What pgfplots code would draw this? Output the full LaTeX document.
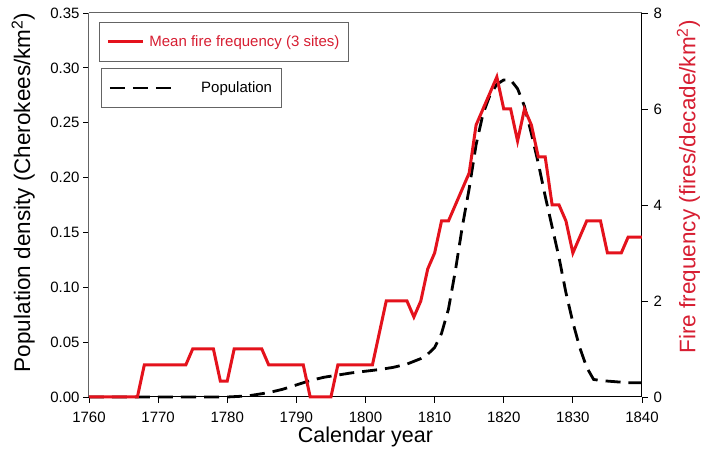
\documentclass[border=0pt]{standalone}
\usepackage{pgfplots}
\pgfplotsset{compat=1.18}
\usepackage{fontspec}
\setmainfont{Liberation Sans}
\definecolor{firered}{RGB}{228,18,28}
\definecolor{labred}{RGB}{215,30,50}
\definecolor{axgray}{RGB}{100,100,100}
\begin{document}
\begin{tikzpicture}
\useasboundingbox (-89pt,-55pt) rectangle (613pt,397pt);
\pgfplotsset{
 every axis/.append style={
  scale only axis, width=553pt, height=384pt, at={(0pt,0pt)}, anchor=south west,
  xmin=1760, xmax=1840, clip=false,
  tick align=outside, major tick length=6pt,
  every tick/.style={line width=0.9pt, black},
  ticklabel style={font=\fontsize{15}{18}\selectfont},
  /pgf/number format/assume math mode=true,
 },
}
\begin{axis}[
  axis x line*=bottom, axis y line*=left,
  x axis line style={line width=1pt, black},
  y axis line style={line width=1pt, axgray},
  ymin=0, ymax=0.35,
  xtick={1760,1770,1780,1790,1800,1810,1820,1830,1840},
  ytick={0,0.05,0.10,0.15,0.20,0.25,0.30,0.35},
  x tick label style={/pgf/number format/1000 sep={}, yshift=-5pt},
  y tick label style={/pgf/number format/.cd, fixed, fixed zerofill, precision=2},
  xlabel={Calendar year},
  xlabel style={at={(axis description cs:0.5,-0.078)}, anchor=north, inner sep=0pt, font=\fontsize{21.5}{25}\selectfont},
  ylabel={Population density (Cherokees/km\textsuperscript{2})},
  ylabel style={at={(axis description cs:-0.119,0.533)}, anchor=center, inner sep=0pt, font=\fontsize{22.5}{26}\selectfont},
  legend style={at={(0.0217,0.857)}, anchor=north west, draw=axgray, line width=0.8pt,
    font=\fontsize{15}{18}\selectfont, inner xsep=7pt, inner ysep=11.5pt},
  legend image code/.code={\draw[#1] (0pt,0pt) -- (61pt,0pt);},
]
\draw[axgray, line width=1pt] (rel axis cs:0,1) -- (rel axis cs:1,1);
\addplot[black, line width=2.8pt, dash pattern=on 15pt off 8pt] coordinates {
(1760,0) (1780,0) (1783,0.001) (1786,0.004) (1788,0.007) (1790,0.011) (1792,0.015)
(1794,0.018) (1796,0.020) (1798,0.022) (1800,0.0235) (1802,0.025) (1804,0.027)
(1806,0.030) (1808,0.035) (1809,0.039) (1810,0.045) (1811,0.058) (1812,0.080)
(1813,0.115) (1814,0.155) (1815,0.190) (1816,0.230) (1817,0.258) (1818,0.275)
(1819,0.285) (1820,0.289) (1821,0.289) (1822,0.281) (1823,0.265) (1824,0.240)
(1825,0.213) (1826,0.183) (1827,0.155) (1828,0.127) (1829,0.095) (1830,0.068)
(1831,0.045) (1832,0.027) (1833,0.016) (1834,0.015) (1836,0.014) (1838,0.013) (1840,0.013)
};
\addlegendentry{\hspace{27pt}Population\hspace{3pt}}
\end{axis}
\begin{axis}[
  axis x line=none, axis y line*=right,
  y axis line style={line width=1pt, black},
  ymin=0, ymax=8, ytick={0,2,4,6,8},
  y tick label style={xshift=2pt},
  ylabel={Fire frequency (fires/decade/km\textsuperscript{2})},
  ylabel style={at={(axis description cs:1.084,0.547)}, anchor=center, inner sep=0pt, text=labred, font=\fontsize{22.5}{26}\selectfont},
  legend style={at={(0.018,0.977)}, anchor=north west, draw=axgray, line width=0.8pt,
    font=\fontsize{15}{18}\selectfont, text=labred, inner xsep=7pt, inner ysep=11.5pt},
  legend image code/.code={\draw[#1] (0pt,0pt) -- (35pt,0pt);},
]
\addplot[firered, line width=3pt] coordinates {
(1760,0) (1767,0) (1768,0.667) (1774,0.667) (1775,1) (1778,1) (1779,0.333) (1780,0.333)
(1781,1) (1785,1) (1786,0.667) (1791,0.667) (1792,0) (1795,0) (1796,0.667) (1801,0.667)
(1803,2) (1806,2) (1807,1.667) (1808,2) (1809,2.667) (1810,3) (1811,3.667) (1812,3.667)
(1813,4) (1814,4.333) (1815,4.667) (1816,5.667) (1817,6) (1818,6.333) (1819,6.667)
(1820,6) (1821,6) (1822,5.333) (1823,6) (1824,5.667) (1825,5) (1826,5) (1827,4) (1828,4)
(1829,3.667) (1830,3) (1832,3.667) (1834,3.667) (1835,3) (1837,3) (1838,3.333) (1840,3.333)
};
\addlegendentry{\hspace{3pt}Mean fire frequency (3 sites)}
\end{axis}
\end{tikzpicture}
\end{document}
